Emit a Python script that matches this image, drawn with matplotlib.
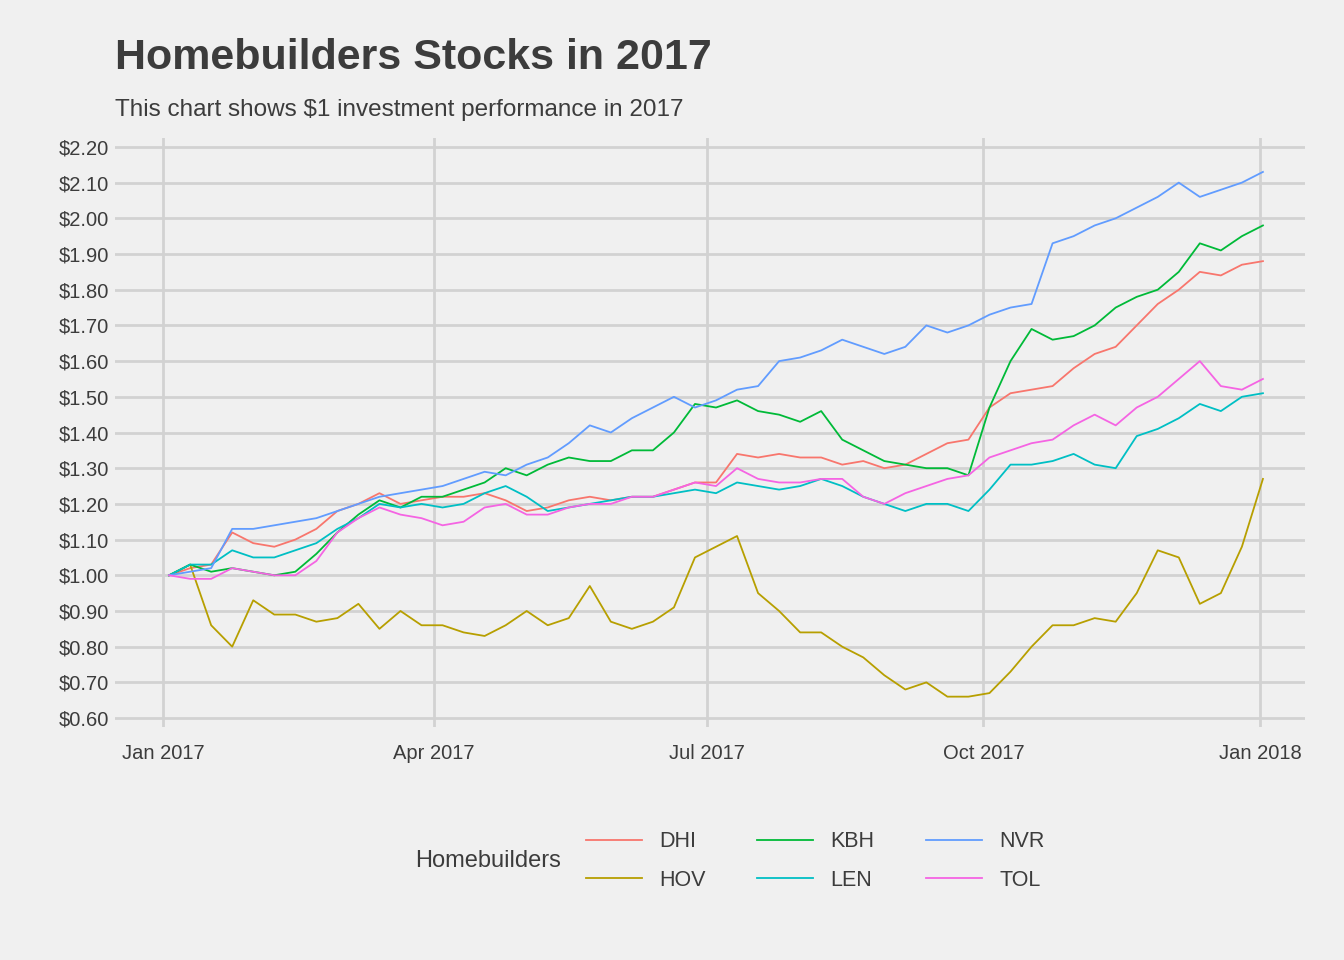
import numpy as np
import pandas as pd
import matplotlib
matplotlib.use('Agg')
import matplotlib.pyplot as plt
import matplotlib.dates as mdates
from matplotlib.ticker import FuncFormatter

plt.rcParams['font.family'] = 'Liberation Sans'

dates = pd.date_range('2017-01-03', periods=53, freq='7D')

dhi = [1.00, 1.02, 1.03, 1.12, 1.09, 1.08, 1.10, 1.13, 1.18, 1.20, 1.23, 1.20, 1.21, 1.22, 1.22, 1.23, 1.21, 1.18,
       1.19, 1.21, 1.22, 1.21, 1.22, 1.22, 1.24, 1.26, 1.26, 1.34, 1.33, 1.34, 1.33, 1.33, 1.31, 1.32, 1.30, 1.31,
       1.34, 1.37, 1.38, 1.47, 1.51, 1.52, 1.53, 1.58, 1.62, 1.64, 1.70, 1.76, 1.80, 1.85, 1.84, 1.87, 1.88]
hov = [1.00, 1.03, 0.86, 0.80, 0.93, 0.89, 0.89, 0.87, 0.88, 0.92, 0.85, 0.90, 0.86, 0.86, 0.84, 0.83, 0.86, 0.90,
       0.86, 0.88, 0.97, 0.87, 0.85, 0.87, 0.91, 1.05, 1.08, 1.11, 0.95, 0.90, 0.84, 0.84, 0.80, 0.77, 0.72, 0.68,
       0.70, 0.66, 0.66, 0.67, 0.73, 0.80, 0.86, 0.86, 0.88, 0.87, 0.95, 1.07, 1.05, 0.92, 0.95, 1.08, 1.27]
kbh = [1.00, 1.03, 1.01, 1.02, 1.01, 1.00, 1.01, 1.06, 1.12, 1.17, 1.21, 1.19, 1.22, 1.22, 1.24, 1.26, 1.30, 1.28,
       1.31, 1.33, 1.32, 1.32, 1.35, 1.35, 1.40, 1.48, 1.47, 1.49, 1.46, 1.45, 1.43, 1.46, 1.38, 1.35, 1.32, 1.31,
       1.30, 1.30, 1.28, 1.47, 1.60, 1.69, 1.66, 1.67, 1.70, 1.75, 1.78, 1.80, 1.85, 1.93, 1.91, 1.95, 1.98]
len_ = [1.00, 1.03, 1.03, 1.07, 1.05, 1.05, 1.07, 1.09, 1.13, 1.16, 1.20, 1.19, 1.20, 1.19, 1.20, 1.23, 1.25, 1.22,
        1.18, 1.19, 1.20, 1.21, 1.22, 1.22, 1.23, 1.24, 1.23, 1.26, 1.25, 1.24, 1.25, 1.27, 1.25, 1.22, 1.20, 1.18,
        1.20, 1.20, 1.18, 1.24, 1.31, 1.31, 1.32, 1.34, 1.31, 1.30, 1.39, 1.41, 1.44, 1.48, 1.46, 1.50, 1.51]
nvr = [1.00, 1.01, 1.02, 1.13, 1.13, 1.14, 1.15, 1.16, 1.18, 1.20, 1.22, 1.23, 1.24, 1.25, 1.27, 1.29, 1.28, 1.31,
       1.33, 1.37, 1.42, 1.40, 1.44, 1.47, 1.50, 1.47, 1.49, 1.52, 1.53, 1.60, 1.61, 1.63, 1.66, 1.64, 1.62, 1.64,
       1.70, 1.68, 1.70, 1.73, 1.75, 1.76, 1.93, 1.95, 1.98, 2.00, 2.03, 2.06, 2.10, 2.06, 2.08, 2.10, 2.13]
tol = [1.00, 0.99, 0.99, 1.02, 1.01, 1.00, 1.00, 1.04, 1.12, 1.16, 1.19, 1.17, 1.16, 1.14, 1.15, 1.19, 1.20, 1.17,
       1.17, 1.19, 1.20, 1.20, 1.22, 1.22, 1.24, 1.26, 1.25, 1.30, 1.27, 1.26, 1.26, 1.27, 1.27, 1.22, 1.20, 1.23,
       1.25, 1.27, 1.28, 1.33, 1.35, 1.37, 1.38, 1.42, 1.45, 1.42, 1.47, 1.50, 1.55, 1.60, 1.53, 1.52, 1.55]

series = {'DHI': dhi, 'HOV': hov, 'KBH': kbh, 'LEN': len_, 'NVR': nvr, 'TOL': tol}
colors = {'DHI': '#F8766D', 'HOV': '#B79F00', 'KBH': '#00BA38',
          'LEN': '#00BFC4', 'NVR': '#619CFF', 'TOL': '#F564E3'}

bg = '#f0f0f0'
txt = '#3c3c3c'
fig = plt.figure(figsize=(13.44, 9.6), dpi=100, facecolor=bg)
ax = fig.add_axes([115 / 1344, 1 - 727 / 960, 1190 / 1344, 589 / 960], facecolor=bg)

for name, vals in series.items():
    ax.plot(dates, vals, color=colors[name], lw=1.3, label=name)

ax.set_ylim(0.575, 2.225)
ax.set_yticks(np.arange(0.6, 2.21, 0.1))
ax.yaxis.set_major_formatter(FuncFormatter(lambda v, p: '${:.2f}'.format(v)))
ax.set_xlim(pd.Timestamp('2016-12-16'), pd.Timestamp('2018-01-16'))
ax.set_xticks(pd.to_datetime(['2017-01-01', '2017-04-01', '2017-07-01', '2017-10-01', '2018-01-01']))
ax.xaxis.set_major_formatter(mdates.DateFormatter('%b %Y'))
ax.grid(True, color='#d2d2d2', lw=2)
ax.set_axisbelow(True)
for s in ax.spines.values():
    s.set_visible(False)
ax.tick_params(length=0, labelsize=14.5, colors=txt, pad=4)
ax.tick_params(axis='x', pad=12)

fig.text(115 / 1344, 1 - 58 / 960, 'Homebuilders Stocks in 2017', fontsize=31, fontweight='bold',
         color=txt, va='center')
fig.text(115 / 1344, 1 - 110 / 960, 'This chart shows $1 investment performance in 2017', fontsize=17.5,
         color=txt, va='center')
fig.text(415 / 1344, 1 - 861 / 960, 'Homebuilders', fontsize=17, color=txt, va='center')
fig.legend(loc='center', bbox_to_anchor=(815 / 1344, 1 - 861 / 960), ncol=3, frameon=False,
           fontsize=15.5, handlelength=2.6, columnspacing=2.4, labelspacing=0.8, labelcolor=txt)

fig.savefig('out.png', dpi=100, facecolor=bg)
